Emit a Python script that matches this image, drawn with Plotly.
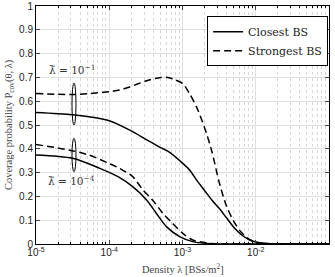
import numpy as np
import plotly.graph_objects as go

# ---- data ----
# log10 of density lambda
x_hi_closest = [-5, -4.5, -4.0, -3.7, -3.5, -3.3, -3.2, -3.0, -2.9, -2.8, -2.7, -2.6, -2.5, -2.4, -2.3, -2.2, -2.1, -2.0, -1.8, -1.5, -1.0]
y_hi_closest = [0.553, 0.543, 0.518, 0.475, 0.44, 0.405, 0.39, 0.34, 0.31, 0.265, 0.225, 0.185, 0.15, 0.11, 0.07, 0.04, 0.02, 0.008, 0.001, 0.0, 0.0]

x_hi_strong = [-5, -4.5, -4.27, -4.0, -3.86, -3.72, -3.5, -3.3, -3.2, -3.1, -3.0, -2.9, -2.8, -2.7, -2.6, -2.5, -2.4, -2.3, -2.2, -2.1, -2.0, -1.9, -1.5, -1.0]
y_hi_strong = [0.632, 0.628, 0.632, 0.64, 0.647, 0.66, 0.685, 0.70, 0.70, 0.69, 0.675, 0.63, 0.57, 0.49, 0.39, 0.26, 0.16, 0.095, 0.05, 0.022, 0.008, 0.002, 0.0, 0.0]

x_lo_closest = [-5, -4.5, -4.13, -3.88, -3.68, -3.49, -3.36, -3.22, -3.04, -2.86, -2.6, -2.0, -1.0]
y_lo_closest = [0.374, 0.36, 0.318, 0.283, 0.241, 0.185, 0.13, 0.073, 0.031, 0.01, 0.001, 0.0, 0.0]

x_lo_strong = [-5, -4.55, -4.28, -4.0, -3.86, -3.68, -3.54, -3.41, -3.27, -3.14, -3.0, -2.86, -2.6, -2.0, -1.0]
y_lo_strong = [0.418, 0.395, 0.374, 0.338, 0.318, 0.283, 0.227, 0.185, 0.13, 0.088, 0.046, 0.017, 0.002, 0.0, 0.0]

xtick_vals = [1e-5, 1e-4, 1e-3, 1e-2, 1e-1]
xtick_text = ["10<sup>-5</sup>", "10<sup>-4</sup>", "10<sup>-3</sup>", "10<sup>-2</sup>", "10<sup>-1</sup>"]
ytick_vals = [0, 0.1, 0.2, 0.3, 0.4, 0.5, 0.6, 0.7, 0.8, 0.9, 1]
ytick_text = ["0", "0.1", "0.2", "0.3", "0.4", "0.5", "0.6", "0.7", "0.8", "0.9", "1"]

ellipse_x = 3.1e-5
ellipse_hi = (0.50, 0.676)
ellipse_lo = (0.304, 0.444)

serif = "Liberation Serif, DejaVu Serif, serif"
wserif = "DejaVu Serif, serif"
sans = "Liberation Sans, Arial, sans-serif"

fig = go.Figure()
dash = "7px,4px"
fig.add_trace(go.Scatter(x=10 ** np.array(x_hi_closest), y=y_hi_closest, mode="lines",
                         line=dict(color="black", width=1.5, shape="spline", smoothing=0.8), name="Closest BS"))
fig.add_trace(go.Scatter(x=10 ** np.array(x_hi_strong), y=y_hi_strong, mode="lines",
                         line=dict(color="black", width=1.5, dash=dash, shape="spline", smoothing=0.8), name="Strongest BS"))
fig.add_trace(go.Scatter(x=10 ** np.array(x_lo_closest), y=y_lo_closest, mode="lines",
                         line=dict(color="black", width=1.5, shape="spline", smoothing=0.8), showlegend=False))
fig.add_trace(go.Scatter(x=10 ** np.array(x_lo_strong), y=y_lo_strong, mode="lines",
                         line=dict(color="black", width=1.5, dash=dash, shape="spline", smoothing=0.8), showlegend=False))

for (y0, y1) in (ellipse_hi, ellipse_lo):
    fig.add_shape(type="circle", xref="x", yref="y", xsizemode="pixel", xanchor=ellipse_x,
                  x0=-4, x1=4, y0=y0, y1=y1, line=dict(color="black", width=1))

fig.add_annotation(x=np.log10(ellipse_x), y=0.735, text="λ̃ = 10<sup>−1</sup>", showarrow=False,
                   font=dict(family=wserif, size=10.5, color="#333"))
fig.add_annotation(x=np.log10(ellipse_x), y=0.268, text="λ̃ = 10<sup>−4</sup>", showarrow=False,
                   font=dict(family=wserif, size=10.5, color="#333"))

# axis titles as annotations for exact placement
fig.add_annotation(xref="paper", yref="paper", x=0.5, y=-0.101, yanchor="middle",
                   text="Density λ [BSs/m<sup>2</sup>]", showarrow=False,
                   font=dict(family=serif, size=10.5, color="#444"))
fig.add_annotation(xref="paper", yref="paper", x=-0.092, y=0.5, xanchor="center", textangle=-90,
                   text="Coverage probability P<sub>cov</sub>(θ, λ)", showarrow=False,
                   font=dict(family=serif, size=10.5, color="#444"))

minor_x = [m * 10.0 ** e for e in range(-5, -1) for m in range(2, 10)]

fig.update_xaxes(type="log", range=[-5, -1], tickvals=xtick_vals, ticktext=xtick_text,
                 ticks="inside", ticklen=4, mirror="allticks", showline=True, linecolor="black", linewidth=1,
                 showgrid=True, gridcolor="#e0e0e0", gridwidth=1, automargin=False,
                 minor=dict(tickvals=minor_x, ticks="inside", ticklen=2, showgrid=True,
                            gridcolor="#d8d8d8", griddash="dot", gridwidth=1, tickcolor="black"),
                 tickfont=dict(family=sans, size=10, color="#222"), ticklabelstandoff=-1,
                 zeroline=False)
fig.update_yaxes(range=[0, 1], tickvals=ytick_vals, ticktext=ytick_text,
                 ticks="inside", ticklen=4, mirror="allticks", showline=True, linecolor="black", linewidth=1,
                 showgrid=True, gridcolor="#e0e0e0", gridwidth=1, automargin=False,
                 tickfont=dict(family=sans, size=10, color="#222"),
                 zeroline=False)

fig.update_layout(width=335, height=277, margin=dict(l=36, r=6, t=6, b=33, autoexpand=False),
                  plot_bgcolor="white", paper_bgcolor="white",
                  legend=dict(x=0.997, y=0.957, xanchor="right", yanchor="top", bgcolor="white",
                              bordercolor="black", borderwidth=1, font=dict(family=wserif, size=11, color="#222"),
                              tracegroupgap=0, itemwidth=30),
                  showlegend=True)

fig.write_html("out.html", config={"displayModeBar": False},
               post_script="document.body.style.margin='0';document.body.style.padding='0';")
